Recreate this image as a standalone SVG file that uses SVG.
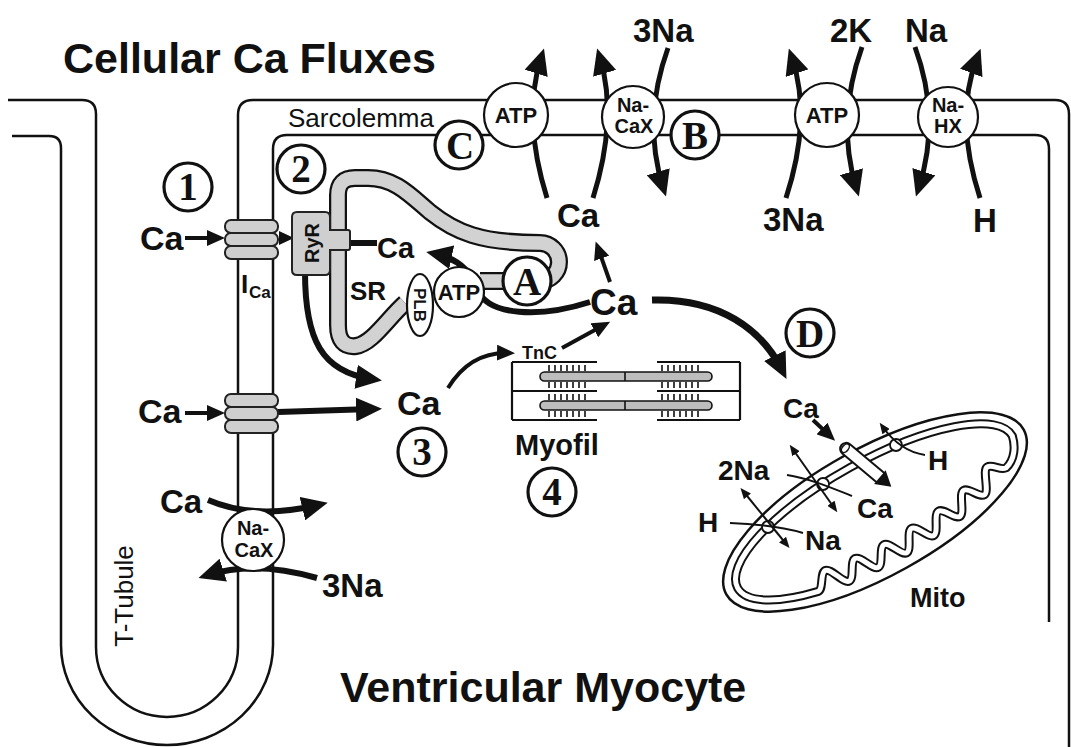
<svg xmlns="http://www.w3.org/2000/svg" width="1071" height="747" viewBox="0 0 1071 747">
<defs>
<style>
.t{font-family:"Liberation Sans",Arial,Helvetica,sans-serif;font-weight:bold;fill:#111}
.n{font-family:"Liberation Sans",Arial,Helvetica,sans-serif;font-weight:normal;fill:#111}
.c{text-anchor:middle}
.mem{fill:none;stroke:#111;stroke-width:2.5}
.ar{fill:none;stroke:#111}
.pump{fill:#fff;stroke:#111;stroke-width:2.2}
.lab{fill:#fff;stroke:#111;stroke-width:3.2}
.lt{font-family:"Liberation Serif","Times New Roman",serif;font-weight:bold;fill:#111;text-anchor:middle;font-size:39px}
.grey{fill:#cfcfcf;stroke:#222;stroke-width:2}
.thin{fill:none;stroke:#111;stroke-width:2}
</style>
<marker id="big" viewBox="0 0 26 24" refX="16" refY="12" markerWidth="26" markerHeight="24" markerUnits="userSpaceOnUse" orient="auto"><path d="M0,0 L26,12 L0,24 Z" fill="#111"/></marker>
<marker id="med" viewBox="0 0 18 16" refX="11" refY="8" markerWidth="18" markerHeight="16" markerUnits="userSpaceOnUse" orient="auto"><path d="M0,0 L18,8 L0,16 Z" fill="#111"/></marker>
<marker id="sm" viewBox="0 0 11 9" refX="7" refY="4.5" markerWidth="11" markerHeight="9" markerUnits="userSpaceOnUse" orient="auto-start-reverse"><path d="M0,0 L11,4.5 L0,9 Z" fill="#111"/></marker>
<g id="chan">
<rect x="0" y="0" width="53" height="13" rx="6" class="grey"/>
<rect x="0" y="13" width="53" height="13" rx="6" class="grey"/>
<rect x="0" y="26" width="53" height="13" rx="6" class="grey"/>
</g>
<path id="tk" d="M0,0v6M6,0v6M12,0v6M18,0v6M24,0v6M30,0v6M36,0v6" stroke="#111" stroke-width="1.6"/>
<path id="im" d="M-157,0 A157,51 0 0 1 157,0 C155,10 148,22 136,25 C130,25 126,15 120,15 C114,15 110,38 104,38 C98,38 94,24 88,24 C82,24 78,45 72,45 C66,45 62,30 56,30 C50,30 46,49 40,49 C34,49 30,32 24,32 C18,32 14,51 8,51 C2,51 -2,33 -8,33 C-14,33 -18,50 -24,50 C-30,50 -34,31 -40,31 C-46,31 -50,48 -56,48 C-62,48 -66,27 -72,27 C-78,27 -82,42 -88,42 A157,51 0 0 1 -157,0 Z"/>
</defs>
<rect width="1071" height="747" fill="#fff"/>

<g id="membranes">
<path class="mem" d="M8,100 H82 Q96,100 96,114 V647 A71,70 0 0 0 238,647 V115 Q238,100 253,100 H1055 Q1069,100 1069,114 V747"/>
<path class="mem" d="M12,136 H49 Q61,136 61,148 V645 A106,100 0 0 0 273,645 V149 Q273,135 287,135 H1035 Q1049,135 1049,149 V622"/>
</g>

<g id="sr">
<path d="M405,303 C388,318 372,344 356,346 Q338,348 338,325 L338,195 Q338,178 355,178 L368,178 C395,178 410,195 430,212 C455,232 480,243 540,243 A19,19 0 0 1 540,281 L480,281" fill="none" stroke="#111" stroke-width="18"/>
<path d="M405,303 C388,318 372,344 356,346 Q338,348 338,325 L338,195 Q338,178 355,178 L368,178 C395,178 410,195 430,212 C455,232 480,243 540,243 A19,19 0 0 1 540,281 L480,281" fill="none" stroke="#d2d2d2" stroke-width="13.5"/>
</g>

<g id="connectors">
<path class="ar" stroke-width="4" marker-end="url(#med)" d="M185,238 H218"/>
<polygon points="279,231 294,238 279,245" fill="#111"/>
<path class="ar" stroke-width="4" marker-end="url(#med)" d="M185,413 H218"/>
<path class="ar" stroke-width="6" marker-end="url(#big)" d="M278,412 L372,409"/>
<path class="ar" stroke-width="6" marker-end="url(#big)" d="M305,272 C305,340 322,372 372,379"/>
<path class="ar" stroke-width="6" marker-end="url(#big)" d="M590,302 C540,318 488,316 478,290 C470,268 455,258 436,254"/>
<path class="ar" stroke-width="6" d="M348,243 H377"/>
<path class="ar" stroke-width="4" marker-end="url(#med)" d="M610,282 L598,248"/>
<path class="ar" stroke-width="4" marker-end="url(#med)" d="M562,348 L604,325"/>
<path class="ar" stroke-width="4" marker-end="url(#med)" d="M448,388 Q470,352 508,353"/>
<path class="ar" stroke-width="7" marker-end="url(#big)" d="M652,300 C720,298 762,330 782,370"/>
<path class="ar" stroke-width="5" marker-end="url(#big)" d="M547,198 Q522,118 541,58"/>
<path class="ar" stroke-width="5" marker-end="url(#big)" d="M593,198 Q618,118 600,58"/>
<path class="ar" stroke-width="5" marker-end="url(#big)" d="M668,48 Q642,120 663,187"/>
<path class="ar" stroke-width="5" marker-end="url(#big)" d="M786,198 Q812,118 792,58"/>
<path class="ar" stroke-width="5" marker-end="url(#big)" d="M862,47 Q836,120 856,187"/>
<path class="ar" stroke-width="5" marker-end="url(#big)" d="M915,47 Q941,118 919,187"/>
<path class="ar" stroke-width="5" marker-end="url(#big)" d="M980,198 Q954,118 977,58"/>
<path class="ar" stroke-width="6" marker-end="url(#big)" d="M208,500 Q255,520 318,505"/>
<path class="ar" stroke-width="6" marker-end="url(#big)" d="M317,578 Q255,560 208,575"/>
</g>

<g id="ryr">
<path class="grey" d="M297,212 L325,212 Q330,212 330,217 L330,230 L348,230 Q350,230 350,232 L350,248 Q350,250 348,250 L330,250 L330,270 Q330,275 325,275 L297,275 Q292,275 292,270 L292,217 Q292,212 297,212 Z"/>
<text class="t c" font-size="20" transform="translate(319,243) rotate(-90)">RyR</text>
</g>
<g id="plb">
<ellipse cx="420" cy="305" rx="13" ry="31" class="pump"/>
<text class="t c" font-size="17" transform="translate(414,305) rotate(90)">PLB</text>
</g>
<g id="serca">
<circle cx="459" cy="292" r="25" class="pump"/>
<text class="t c" x="459" y="300" font-size="22">ATP</text>
</g>

<g id="channel1"><use href="#chan" x="225" y="220"/></g>
<g id="channel2"><use href="#chan" x="225" y="394"/></g>

<g id="pmca">
<circle cx="516" cy="115" r="32" class="pump"/>
<text class="t c" x="516" y="123" font-size="22">ATP</text>
</g>
<g id="ncx">
<circle cx="633" cy="117" r="31" class="pump"/>
<text class="t c" x="633" y="112" font-size="20">Na-</text>
<text class="t c" x="634" y="133" font-size="20">CaX</text>
</g>
<g id="nak">
<circle cx="827" cy="115" r="32" class="pump"/>
<text class="t c" x="827" y="123" font-size="22">ATP</text>
</g>
<g id="nhe">
<circle cx="948" cy="117" r="30" class="pump"/>
<text class="t c" x="948" y="112" font-size="20">Na-</text>
<text class="t c" x="948" y="133" font-size="20">HX</text>
</g>
<g id="ncx-tt">
<circle cx="253" cy="540" r="31" class="pump"/>
<text class="t c" x="253" y="535" font-size="20">Na-</text>
<text class="t c" x="254" y="557" font-size="20">CaX</text>
</g>

<g id="myofil">
<path fill="none" stroke="#111" stroke-width="2.2" d="M512,362 V420 M740,362 V420 M512,362 H597 M512,391 H597 M512,420 H597 M657,362 H740 M657,391 H740 M657,420 H740"/>
<rect x="540" y="372" width="172" height="9" rx="4.5" fill="#bdbdbd" stroke="#111" stroke-width="1.6"/>
<rect x="540" y="401" width="172" height="9" rx="4.5" fill="#bdbdbd" stroke="#111" stroke-width="1.6"/>
<path d="M625,372 V381 M625,401 V410" stroke="#111" stroke-width="1.6"/>
<use href="#tk" x="549" y="365"/><use href="#tk" x="549" y="382"/>
<use href="#tk" x="662" y="365"/><use href="#tk" x="662" y="382"/>
<use href="#tk" x="549" y="394"/><use href="#tk" x="549" y="411"/>
<use href="#tk" x="662" y="394"/><use href="#tk" x="662" y="411"/>
</g>

<g id="mito">
<ellipse cx="875" cy="512" rx="170" ry="64" transform="rotate(-29 875 512)" fill="#fff" stroke="#111" stroke-width="2.5"/>
<g transform="translate(875,512) rotate(-29)">
<use href="#im" fill="none" stroke="#111" stroke-width="9"/>
<use href="#im" fill="none" stroke="#fff" stroke-width="5"/>
</g>
<circle cx="896" cy="445" r="6" fill="#fff" stroke="#111" stroke-width="1.8"/>
<circle cx="823" cy="484" r="6" fill="#fff" stroke="#111" stroke-width="1.8"/>
<circle cx="768" cy="527" r="6" fill="#fff" stroke="#111" stroke-width="1.8"/>
<path class="thin" d="M787,475 C808,478 832,488 852,496"/>
<path class="thin" d="M730,523 C755,524 782,527 803,533"/>
<path class="thin" marker-start="url(#sm)" marker-end="url(#sm)" d="M792,448 L835,509"/>
<path class="thin" marker-start="url(#sm)" marker-end="url(#sm)" d="M743,491 L787,545"/>
<path class="thin" marker-end="url(#sm)" d="M925,455 C905,452 892,440 882,426"/>
<path class="ar" stroke-width="4" marker-end="url(#med)" d="M813,420 L830,436"/>
<g transform="translate(863,463) rotate(40)">
<rect x="-28" y="-6" width="56" height="12" rx="6" fill="#fff" stroke="#111" stroke-width="2"/>
<ellipse cx="-23" cy="0" rx="3" ry="5" fill="none" stroke="#111" stroke-width="1.5"/>
<polygon points="22,-9 37,0 22,9" fill="#111"/>
</g>
</g>

<g id="labels">
<circle cx="188" cy="187" r="24" class="lab"/><text class="lt" x="188" y="200" font-size="37">1</text>
<circle cx="301" cy="169" r="24" class="lab"/><text class="lt" x="301" y="182" font-size="37">2</text>
<circle cx="422" cy="452" r="24" class="lab"/><text class="lt" x="422" y="465" font-size="37">3</text>
<circle cx="552" cy="492" r="24" class="lab"/><text class="lt" x="552" y="505" font-size="37">4</text>
<circle cx="527" cy="281" r="24" class="lab"/><text class="lt" x="527" y="295">A</text>
<circle cx="695" cy="135" r="24" class="lab"/><text class="lt" x="695" y="149">B</text>
<circle cx="459" cy="145" r="24" class="lab"/><text class="lt" x="460" y="159">C</text>
<circle cx="810" cy="333" r="24" class="lab"/><text class="lt" x="810" y="347">D</text>
</g>

<g id="texts">
<text class="t" x="63" y="73" font-size="43">Cellular Ca Fluxes</text>
<text class="t" x="340" y="702" font-size="43">Ventricular Myocyte</text>
<text class="n" x="288" y="127" font-size="26">Sarcolemma</text>
<text class="n c" font-size="26" transform="translate(133,596) rotate(-90)">T-Tubule</text>
<text class="t" x="140" y="250" font-size="34">Ca</text>
<text class="t" x="138" y="423" font-size="34">Ca</text>
<text class="t" x="241" y="293" font-size="26">I</text>
<text class="t" x="249" y="298" font-size="17">Ca</text>
<text class="t" x="377" y="258" font-size="29">Ca</text>
<text class="t" x="350" y="300" font-size="26">SR</text>
<text class="t" x="590" y="315" font-size="37">Ca</text>
<text class="t" x="557" y="227" font-size="33">Ca</text>
<text class="t" x="633" y="42" font-size="33">3Na</text>
<text class="t" x="830" y="42" font-size="33">2K</text>
<text class="t" x="905" y="42" font-size="33">Na</text>
<text class="t" x="763" y="231" font-size="33">3Na</text>
<text class="t" x="973" y="232" font-size="33">H</text>
<text class="t" x="397" y="415" font-size="34">Ca</text>
<text class="t" x="522" y="359" font-size="18">TnC</text>
<text class="t" x="515" y="455" font-size="29">Myofil</text>
<text class="t" x="160" y="513" font-size="33">Ca</text>
<text class="t" x="322" y="597" font-size="33">3Na</text>
<text class="t" x="783" y="418" font-size="28">Ca</text>
<text class="t" x="718" y="480" font-size="28">2Na</text>
<text class="t" x="857" y="518" font-size="28">Ca</text>
<text class="t" x="698" y="532" font-size="28">H</text>
<text class="t" x="805" y="550" font-size="28">Na</text>
<text class="t" x="928" y="470" font-size="28">H</text>
<text class="t" x="910" y="607" font-size="27">Mito</text>
</g>
</svg>
